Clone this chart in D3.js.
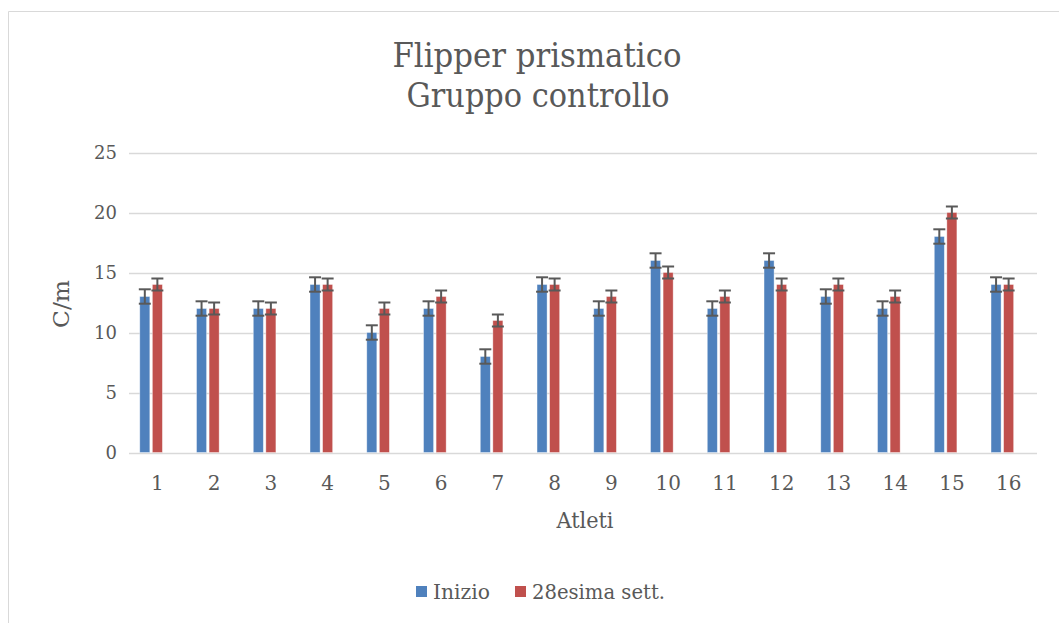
<!DOCTYPE html>
<html lang="it">
<head>
<meta charset="utf-8">
<title>Flipper prismatico - Gruppo controllo</title>
<script src="https://d3js.org/d3.v7.min.js"></script>
<style>
  body { margin: 0; background: #fff; }
  svg text { font-family: "DejaVu Serif", "Liberation Serif", serif; fill: #595959; }
</style>
</head>
<body>
<div id="chart"></div>
<script>
// data
var atleti = ["1","2","3","4","5","6","7","8","9","10","11","12","13","14","15","16"];
var inizio = [13, 12, 12, 14, 10, 12, 8, 14, 12, 16, 12, 16, 13, 12, 18, 14];
var settimana28 = [14, 12, 12, 14, 12, 13, 11, 14, 13, 15, 13, 14, 14, 13, 20, 14];
var erroreInizio = [0.6, 0.6, 0.6, 0.6, 0.6, 0.6, 0.6, 0.6, 0.6, 0.6, 0.6, 0.6, 0.6, 0.6, 0.6, 0.6];
var errore28 = [0.5, 0.5, 0.5, 0.5, 0.5, 0.5, 0.5, 0.5, 0.5, 0.5, 0.5, 0.5, 0.5, 0.5, 0.5, 0.5];
var serieNomi = ["Inizio", "28esima sett."];
var serieColori = ["#4f81bd", "#c0504d"];
var yTicks = [0, 5, 10, 15, 20, 25];

var w = 1059, h = 623;
var plot = {left: 129, right: 1037, top: 152.5, bottom: 452.5};
var font = "DejaVu Serif";

var svg = d3.select("#chart").append("svg")
  .attr("width", w)
  .attr("height", h);

// chart frame (only top and left edges visible in the crop)
svg.append("path")
  .attr("d", "M8.5," + h + "V11.5H" + w)
  .attr("fill", "none")
  .attr("stroke", "#d9d9d9")
  .attr("stroke-width", 1);

var x0 = d3.scaleBand()
  .domain(atleti)
  .range([plot.left, plot.right])
  .paddingInner(0.38)
  .paddingOuter(0.19);

// Excel left room for a third (empty) series in each group
var x1 = d3.scaleBand()
  .domain(serieNomi.concat(["vuoto"]))
  .range([0, x0.bandwidth()])
  .paddingInner(0.2);

var y = d3.scaleLinear()
  .domain([0, 25])
  .range([plot.bottom, plot.top]);

// gridlines
svg.append("g")
  .selectAll("line")
  .data(yTicks)
  .join("line")
  .attr("x1", plot.left)
  .attr("x2", plot.right)
  .attr("y1", d => Math.round(y(d)) + 0.5)
  .attr("y2", d => Math.round(y(d)) + 0.5)
  .attr("stroke", "#d9d9d9")
  .attr("stroke-width", 1.5);

// y axis labels
var yAxis = d3.axisLeft(y).tickValues(yTicks).tickSize(0).tickPadding(12);
var gy = svg.append("g")
  .attr("transform", `translate(${plot.left},0)`)
  .call(yAxis);
gy.select(".domain").remove();
gy.selectAll("text")
  .attr("font-family", font)
  .attr("font-size", 18)
  .attr("fill", "#595959");

// x axis labels
var xAxis = d3.axisBottom(x0).tickSize(0).tickPadding(23);
var gx = svg.append("g")
  .attr("transform", `translate(0,${plot.bottom})`)
  .call(xAxis);
gx.select(".domain").remove();
gx.selectAll("text")
  .attr("font-family", font)
  .attr("font-size", 20)
  .attr("fill", "#595959");

var serie = [
  {nome: serieNomi[0], valori: inizio, errori: erroreInizio, colore: serieColori[0]},
  {nome: serieNomi[1], valori: settimana28, errori: errore28, colore: serieColori[1]}
];

var punti = [];
serie.forEach(function(s) {
  s.valori.forEach(function(v, i) {
    punti.push({atleta: atleti[i], serie: s.nome, valore: v, errore: s.errori[i], colore: s.colore});
  });
});

// bars
svg.append("g")
  .selectAll("rect")
  .data(punti)
  .join("rect")
  .attr("x", d => x0(d.atleta) + x1(d.serie))
  .attr("y", d => y(d.valore))
  .attr("width", x1.bandwidth())
  .attr("height", d => y(0) - y(d.valore))
  .attr("fill", d => d.colore)
  .attr("stroke", "#fff")
  .attr("stroke-opacity", 0.5)
  .attr("stroke-width", 0.75);

// error bars
var capW = 12;
var eb = svg.append("g")
  .attr("stroke", "#595959")
  .attr("stroke-width", 2)
  .selectAll("g")
  .data(punti)
  .join("g")
  .attr("transform", d => `translate(${x0(d.atleta) + x1(d.serie) + x1.bandwidth() / 2},0)`);

eb.append("line")
  .attr("y1", d => y(d.valore + d.errore))
  .attr("y2", d => y(d.valore - d.errore));
eb.append("line")
  .attr("x1", -capW / 2).attr("x2", capW / 2)
  .attr("y1", d => y(d.valore + d.errore))
  .attr("y2", d => y(d.valore + d.errore));
eb.append("line")
  .attr("x1", -capW / 2).attr("x2", capW / 2)
  .attr("y1", d => y(d.valore - d.errore))
  .attr("y2", d => y(d.valore - d.errore));

// title (squeezed a little to match the original width)
svg.append("text")
  .attr("x", 537)
  .attr("y", 67)
  .attr("text-anchor", "middle")
  .attr("font-family", font)
  .attr("font-size", 33)
  .attr("textLength", 289)
  .attr("lengthAdjust", "spacingAndGlyphs")
  .text("Flipper prismatico");
svg.append("text")
  .attr("x", 538)
  .attr("y", 107)
  .attr("text-anchor", "middle")
  .attr("font-family", font)
  .attr("font-size", 33)
  .attr("textLength", 263)
  .attr("lengthAdjust", "spacingAndGlyphs")
  .text("Gruppo controllo");

// axis titles
svg.append("text")
  .attr("transform", "translate(69,304) rotate(-90)")
  .attr("text-anchor", "middle")
  .attr("font-family", font)
  .attr("font-size", 22)
  .attr("textLength", 48)
  .attr("lengthAdjust", "spacingAndGlyphs")
  .text("C/m");

svg.append("text")
  .attr("x", 585)
  .attr("y", 528)
  .attr("text-anchor", "middle")
  .attr("font-family", font)
  .attr("font-size", 22)
  .attr("textLength", 57)
  .attr("lengthAdjust", "spacingAndGlyphs")
  .text("Atleti");

// legend
var legendPos = [416, 515];
var legendLen = [57, 133];
var legend = svg.append("g").attr("transform", "translate(0,592)");
serie.forEach(function(s, i) {
  var g = legend.append("g").attr("transform", `translate(${legendPos[i]},0)`);
  g.append("rect")
    .attr("x", 0).attr("y", -6)
    .attr("width", 11).attr("height", 11)
    .attr("fill", s.colore);
  g.append("text")
    .attr("x", 17)
    .attr("y", 0)
    .attr("dy", "0.35em")
    .attr("font-family", font)
    .attr("font-size", 20)
    .attr("textLength", legendLen[i])
    .attr("lengthAdjust", "spacingAndGlyphs")
    .text(s.nome);
});
</script>
</body>
</html>
